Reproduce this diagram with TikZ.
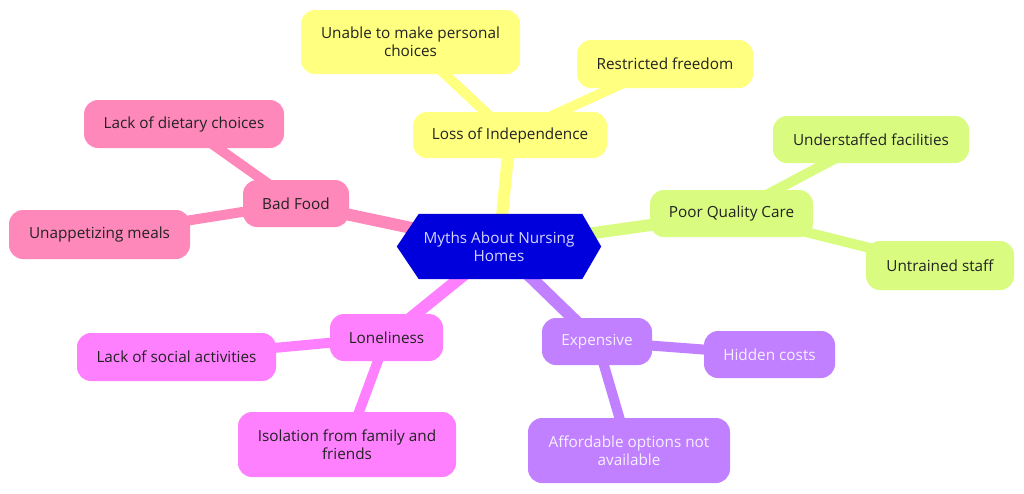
\documentclass[tikz,border=0pt]{standalone}
\usepackage{fontspec}
\setmainfont{Open Sans}
\usetikzlibrary{calc,backgrounds}
\definecolor{cblue}{HTML}{0000DD}
\definecolor{ctext}{HTML}{D4D4FF}
\definecolor{cyel}{HTML}{FFFF80}
\definecolor{cgrn}{HTML}{D9FC80}
\definecolor{cpink}{HTML}{FF88BB}
\definecolor{cmag}{HTML}{FF80FF}
\definecolor{cpur}{HTML}{C080FF}
\definecolor{dtext}{HTML}{222222}
\definecolor{ptext}{HTML}{F6F0FF}
\tikzset{
  box/.style={rounded corners=14pt, inner sep=0pt, align=center, font=\fontsize{15.3}{18}\selectfont},
  yel/.style={box, fill=cyel, text=dtext},
  grn/.style={box, fill=cgrn, text=dtext},
  pnk/.style={box, fill=cpink, text=dtext},
  mag/.style={box, fill=cmag, text=dtext},
  pur/.style={box, fill=cpur, text=ptext},
  mainlink/.style={line width=12pt},
  sublink/.style={line width=10pt},
}
\begin{document}
\begin{tikzpicture}[x=1pt,y=-1pt]
\useasboundingbox (0,0) rectangle (1024,493);
% central
\node[inner sep=0pt, minimum width=204pt, minimum height=65pt, align=center, text=ctext,
      font=\fontsize{15.3}{18}\selectfont] (c) at (499,246.5) {Myths About Nursing\\Homes};
% yellow branch
\node[yel, minimum width=194pt, minimum height=46pt] (li) at (510,135) {Loss of Independence};
\node[yel, minimum width=219pt, minimum height=64pt] (unable) at (410.5,42) {Unable to make personal\\choices};
\node[yel, minimum width=176pt, minimum height=48pt] (restr) at (665,64) {Restricted freedom};
% green branch
\node[grn, minimum width=163pt, minimum height=47pt] (pqc) at (731.5,213.5) {Poor Quality Care};
\node[grn, minimum width=196pt, minimum height=47pt] (under) at (871,139.5) {Understaffed facilities};
\node[grn, minimum width=148pt, minimum height=49pt] (untr) at (940,265.5) {Untrained staff};
% pink branch
\node[pnk, minimum width=106pt, minimum height=47pt] (bad) at (296,203.5) {Bad Food};
\node[pnk, minimum width=200pt, minimum height=48pt] (diet) at (184,124) {Lack of dietary choices};
\node[pnk, minimum width=181pt, minimum height=49pt] (unap) at (99.5,234.5) {Unappetizing meals};
% magenta branch
\node[mag, minimum width=113pt, minimum height=47pt] (lone) at (386.5,337.5) {Loneliness};
\node[mag, minimum width=199pt, minimum height=48pt] (social) at (176.5,357) {Lack of social activities};
\node[mag, minimum width=218pt, minimum height=65pt] (iso) at (347,444.5) {Isolation from family and\\friends};
% purple branch
\node[pur, minimum width=110pt, minimum height=47pt] (exp) at (597,341.5) {Expensive};
\node[pur, minimum width=131pt, minimum height=47pt] (hidden) at (769.5,354.5) {Hidden costs};
\node[pur, minimum width=202pt, minimum height=65pt] (afford) at (629,450.5) {Affordable options not\\available};
\begin{scope}[on background layer]
  \fill[white] (0,0) rectangle (1024,493);
  \draw[mainlink, cyel] (c.center) -- (li.center);
  \draw[sublink, cyel] (li.center) -- (unable.center);
  \draw[sublink, cyel] (li.center) -- (restr.center);
  \draw[mainlink, cgrn] (c.center) -- (pqc.center);
  \draw[sublink, cgrn] (pqc.center) -- (under.center);
  \draw[sublink, cgrn] (pqc.center) -- (untr.center);
  \draw[mainlink, cpink] (c.center) -- (bad.center);
  \draw[sublink, cpink] (bad.center) -- (diet.center);
  \draw[sublink, cpink] (bad.center) -- (unap.center);
  \draw[mainlink, cmag] (c.center) -- (lone.center);
  \draw[sublink, cmag] (lone.center) -- (social.center);
  \draw[sublink, cmag] (lone.center) -- (iso.center);
  \draw[mainlink, cpur] (c.center) -- (exp.center);
  \draw[sublink, cpur] (exp.center) -- (hidden.center);
  \draw[sublink, cpur] (exp.center) -- (afford.center);
  \fill[cblue] (c.west) -- ($(c.north west)+(22,0)$) -- ($(c.north east)+(-19,0)$)
     -- (c.east) -- ($(c.south east)+(-19,0)$) -- ($(c.south west)+(22,0)$) -- cycle;
\end{scope}
\end{tikzpicture}
\end{document}
